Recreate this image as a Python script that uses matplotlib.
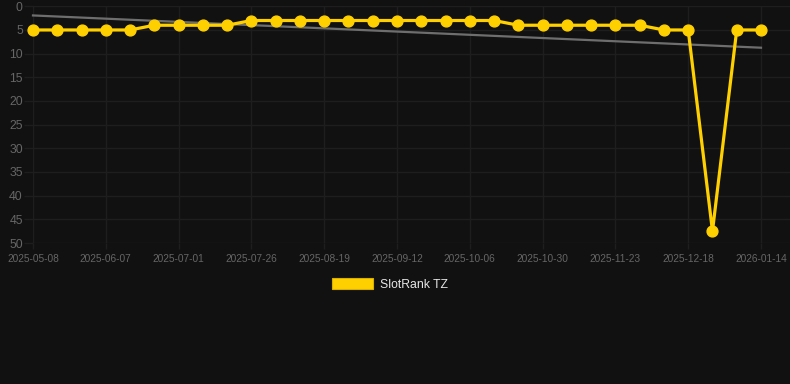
import numpy as np
import matplotlib
matplotlib.use("Agg")
import matplotlib.pyplot as plt
from matplotlib.patches import Patch

plt.rcParams['font.family'] = ['Liberation Sans', 'DejaVu Sans']

# data
ranks = [5, 5, 5, 5, 5,
         4, 4, 4, 4,
         3, 3, 3, 3, 3, 3, 3, 3, 3, 3, 3,
         4, 4, 4, 4, 4, 4,
         5, 5,
         47.5,
         5, 5]
tick_labels = ["2025-05-08", "2025-06-07", "2025-07-01", "2025-07-26", "2025-08-19",
               "2025-09-12", "2025-10-06", "2025-10-30", "2025-11-23", "2025-12-18",
               "2026-01-14"]
tick_step = 3
y_ticks = [0, 5, 10, 15, 20, 25, 30, 35, 40, 45, 50]
series_name = "SlotRank TZ"

BG = "#111111"
YELLOW = "#FFD000"
GRID = "#1e1e1e"
TXT = "#666666"

W, H = 790, 384
fig = plt.figure(figsize=(W / 100, H / 100), dpi=100, facecolor=BG)
left_px, right_px, top_px, bottom_px = 33, 790, 6.3, 243
ax = fig.add_axes([left_px / W, 1 - bottom_px / H, (right_px - left_px) / W, (bottom_px - top_px) / H])
ax.set_facecolor(BG)

x = np.arange(len(ranks))
y = np.array(ranks, dtype=float)

# trend line (linear regression)
slope, intercept = np.polyfit(x, y, 1)
ax.plot(x, slope * x + intercept, color="#6e6e6e", lw=1.6, zorder=2, clip_on=False)

ax.plot(x, y, color=YELLOW, lw=2.3, marker="o", markersize=7.8,
        markerfacecolor=YELLOW, markeredgecolor=YELLOW,
        solid_joinstyle="miter", zorder=3, clip_on=False)

px_per_unit = (761 - 33) / (len(ranks) - 1)
ax.set_xlim(0, (right_px - left_px) / px_per_unit)
ax.set_ylim(50, 0)

ax.set_xticks(x[::tick_step])
ax.set_xticklabels(tick_labels)
ax.set_yticks(y_ticks)

ax.grid(True, color=GRID, lw=1.0)
ax.set_axisbelow(True)
for s in ax.spines.values():
    s.set_visible(False)
ax.tick_params(axis="x", colors=GRID, labelcolor=TXT, labelsize=7.3, length=4, width=1.0, pad=4)
ax.tick_params(axis="y", colors=GRID, labelcolor=TXT, labelsize=8.8, length=6.5, width=1.0, pad=0.8)

handle = Patch(facecolor=YELLOW, edgecolor="#d9b000", lw=0.8)
fig.legend(handles=[handle], labels=[series_name], loc="center",
           bbox_to_anchor=(390 / W, 1 - 284.5 / H), frameon=False,
           handlelength=3.4, handleheight=1.0, handletextpad=0.6,
           fontsize=8.8, labelcolor="#e6e6e6")

fig.savefig("out.png", dpi=100, facecolor=BG)
